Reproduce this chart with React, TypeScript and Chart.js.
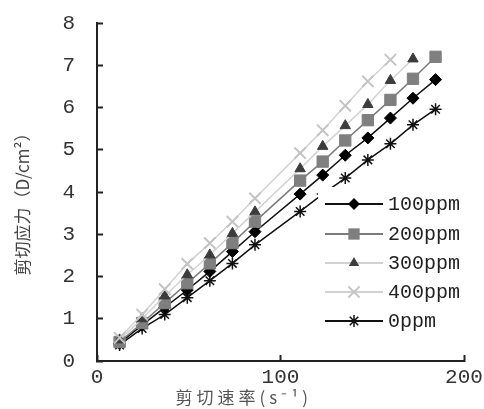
import React, { useEffect, useRef } from "react";
import { Chart, registerables } from "chart.js";

Chart.register(...registerables);

// shear rate (s^-1)
const shearRates = [12.3, 24.6, 36.9, 49.2, 61.5, 73.8, 86.1, 110.7, 123.0, 135.3, 147.6, 159.9, 172.2, 184.5];
// shear stress (D/cm^2)
const stress100 = [0.42, 0.85, 1.27, 1.68, 2.12, 2.59, 3.06, 3.95, 4.4, 4.87, 5.28, 5.75, 6.22, 6.66];
const stress200 = [0.45, 0.9, 1.37, 1.84, 2.31, 2.79, 3.3, 4.27, 4.72, 5.22, 5.7, 6.18, 6.68, 7.2];
const stress300 = [0.5, 1.0, 1.54, 2.04, 2.51, 3.02, 3.53, 4.55, 5.08, 5.57, 6.07, 6.64, 7.15];
const stress400 = [0.55, 1.1, 1.7, 2.3, 2.79, 3.3, 3.85, 4.92, 5.46, 6.04, 6.62, 7.13];
const stress0 = [0.38, 0.77, 1.1, 1.5, 1.9, 2.31, 2.75, 3.54, 3.95, 4.33, 4.76, 5.14, 5.59, 5.96];

const seriesLabels = ["100ppm", "200ppm", "300ppm", "400ppm", "0ppm"];
const xTitle = "剪切速率(s⁻¹)";
const yTitle = "剪切应力（D/cm²）";

type Style = {
  line: string;
  fill: string;
  stroke: string;
  point: string;
  radius: number;
  pw: number;
};

const styles: Style[] = [
  { line: "#111111", fill: "#000000", stroke: "#000000", point: "rectRot", radius: 6, pw: 1 },
  { line: "#7a7a7a", fill: "#7f7f7f", stroke: "#7f7f7f", point: "rect", radius: 8, pw: 1 },
  { line: "#d2d2d2", fill: "#3c3c3c", stroke: "#3c3c3c", point: "triangle", radius: 6, pw: 1 },
  { line: "#d2d2d2", fill: "#c4c4c4", stroke: "#c4c4c4", point: "crossRot", radius: 8, pw: 2 },
  { line: "#111111", fill: "#111111", stroke: "#111111", point: "star", radius: 6, pw: 1.5 },
];

const seriesValues = [stress100, stress200, stress300, stress400, stress0];

function drawMarker(ctx: CanvasRenderingContext2D, s: Style, x: number, y: number) {
  const r = s.radius;
  ctx.save();
  ctx.fillStyle = s.fill;
  ctx.strokeStyle = s.stroke;
  ctx.lineWidth = s.pw;
  ctx.beginPath();
  if (s.point === "rectRot") {
    ctx.moveTo(x, y - r);
    ctx.lineTo(x + r, y);
    ctx.lineTo(x, y + r);
    ctx.lineTo(x - r, y);
    ctx.closePath();
    ctx.fill();
  } else if (s.point === "rect") {
    const h = r * Math.SQRT1_2;
    ctx.rect(x - h, y - h, 2 * h, 2 * h);
    ctx.fill();
  } else if (s.point === "triangle") {
    for (let i = 0; i < 3; i++) {
      const a = -Math.PI / 2 + (i * 2 * Math.PI) / 3;
      const px = x + Math.cos(a) * r;
      const py = y + Math.sin(a) * r;
      if (i === 0) ctx.moveTo(px, py);
      else ctx.lineTo(px, py);
    }
    ctx.closePath();
    ctx.fill();
  } else {
    const d = r * Math.SQRT1_2;
    ctx.moveTo(x - d, y - d);
    ctx.lineTo(x + d, y + d);
    ctx.moveTo(x - d, y + d);
    ctx.lineTo(x + d, y - d);
    if (s.point === "star") {
      ctx.moveTo(x, y - r);
      ctx.lineTo(x, y + r);
    }
    ctx.stroke();
  }
  ctx.restore();
}

const overlayPlugin = {
  id: "overlay",
  afterDatasetsDraw(chart: any) {
    const ctx: CanvasRenderingContext2D = chart.ctx;
    const area = chart.chartArea;
    // legend box
    ctx.save();
    ctx.fillStyle = "#ffffff";
    ctx.fillRect(318, 187, 160, 148);
    const rowY = [204, 234, 263, 292, 321];
    seriesLabels.forEach((label, i) => {
      const s = styles[i];
      const y = rowY[i];
      ctx.strokeStyle = s.line;
      ctx.lineWidth = 2;
      ctx.beginPath();
      ctx.moveTo(325, y);
      ctx.lineTo(383, y);
      ctx.stroke();
      drawMarker(ctx, s, 354, y);
      ctx.fillStyle = "#222222";
      ctx.font = "20px 'Liberation Mono', monospace";
      ctx.textAlign = "left";
      ctx.textBaseline = "middle";
      ctx.fillText(label, 388, y + 1);
    });
    ctx.restore();

    // axis titles
    ctx.save();
    ctx.fillStyle = "#555555";
    ctx.font = "17px 'Noto Sans CJK SC', sans-serif";
    ctx.textAlign = "center";
    ctx.textBaseline = "middle";
    (ctx as any).letterSpacing = "4px";
    ctx.fillText(xTitle, area.left + (area.right - area.left) * 0.4, 398);
    ctx.restore();

    ctx.save();
    ctx.fillStyle = "#444444";
    ctx.font = "17px 'Noto Sans CJK SC', sans-serif";
    ctx.textAlign = "center";
    ctx.textBaseline = "middle";
    ctx.translate(23, 200);
    ctx.rotate(-Math.PI / 2);
    ctx.fillText(yTitle, 0, 0);
    ctx.restore();
  },
};

export default function App() {
  const ref = useRef<HTMLCanvasElement | null>(null);

  useEffect(() => {
    if (!ref.current) return;
    const datasets = seriesValues.map((vals, i) => {
      const s = styles[i];
      return {
        label: seriesLabels[i],
        data: vals.map((v, j) => ({ x: shearRates[j], y: v })),
        borderColor: s.line,
        borderWidth: 1.5,
        backgroundColor: s.fill,
        pointStyle: s.point,
        pointRadius: s.radius,
        pointBackgroundColor: s.fill,
        pointBorderColor: s.stroke,
        pointBorderWidth: s.pw,
        showLine: true,
        fill: false,
        tension: 0,
      };
    });
    const chart = new Chart(ref.current, {
      type: "line",
      data: { datasets: [datasets[3], datasets[2], datasets[1], datasets[0], datasets[4]] as any },
      options: {
        responsive: false,
        animation: false,
        layout: { padding: { left: 0, right: 20, top: 23, bottom: 0 } },
        plugins: { legend: { display: false }, tooltip: { enabled: false } },
        scales: {
          x: {
            type: "linear",
            min: 0,
            max: 200,
            afterFit: (scale: any) => {
              scale.height = 48;
              scale.paddingLeft = 0;
              scale.paddingRight = 0;
            },
            ticks: {
              stepSize: 100,
              color: "#333333",
              padding: 10,
              maxRotation: 0,
              font: { family: "'Liberation Mono', monospace", size: 21 },
            },
            grid: {
              drawOnChartArea: false,
              drawTicks: true,
              tickLength: -6,
              tickColor: "#222222",
              tickWidth: 2,
            },
            border: { display: true, color: "#222222", width: 2 },
          },
          y: {
            type: "linear",
            min: 0,
            max: 8,
            afterFit: (scale: any) => {
              scale.width = 97;
              scale.paddingTop = 0;
              scale.paddingBottom = 0;
            },
            ticks: {
              stepSize: 1,
              color: "#333333",
              padding: 28,
              font: { family: "'Liberation Mono', monospace", size: 21 },
            },
            grid: {
              drawOnChartArea: false,
              drawTicks: true,
              tickLength: -6,
              tickColor: "#222222",
              tickWidth: 2,
            },
            border: { display: true, color: "#222222", width: 2 },
          },
        },
      },
      plugins: [overlayPlugin],
    });
    return () => chart.destroy();
  }, []);

  return (
    <div style={{ position: "fixed", left: 0, top: 0, width: 484, height: 409, background: "#fff" }}>
      <canvas ref={ref} width={484} height={409} style={{ display: "block" }} />
    </div>
  );
}
